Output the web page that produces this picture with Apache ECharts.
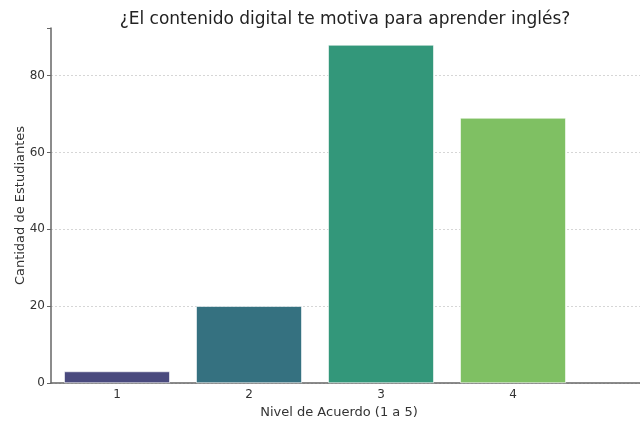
<!DOCTYPE html>
<html>
<head>
<meta charset="utf-8">
<script src="https://cdn.jsdelivr.net/npm/echarts@6/dist/echarts.min.js"></script>
<style>
  html, body { margin: 0; padding: 0; background: #fff; }
  #main { width: 640px; height: 421px; }
</style>
</head>
<body>
<div id="main"></div>
<script>
// Nivel 5 falls outside the cropped picture; it only keeps the axis spacing
const categories = ['1', '2', '3', '4', '5'];
const counts = [3, 20, 88, 69, null];
const barColors = ['#4a4a7e', '#357180', '#33977a', '#7fc063', '#c8d94a'];
const yTicks = [0, 20, 40, 60, 80];

const font = 'DejaVu Sans';
const chart = echarts.init(document.getElementById('main'));

chart.setOption({
  animation: false,
  title: {
    text: '¿El contenido digital te motiva para aprender inglés?',
    left: 340,
    top: 6,
    textAlign: 'center',
    textStyle: { fontFamily: font, fontSize: 17, fontWeight: 'normal', color: '#222' }
  },
  grid: { left: 51, width: 660, top: 28, bottom: 38, outerBoundsMode: 'none' },
  xAxis: {
    type: 'category',
    data: categories,
    name: 'Nivel de Acuerdo (1 a 5)',
    nameLocation: 'middle',
    nameGap: 19,
    nameTextStyle: { fontFamily: font, fontSize: 13, color: '#333', padding: [0, 84, 0, 0] },
    axisLine: { lineStyle: { color: '#666', width: 1.5 } },
    axisTick: { alignWithLabel: true, length: 3, lineStyle: { color: '#666' } },
    axisLabel: { fontFamily: font, fontSize: 12, color: '#333', margin: 6 }
  },
  yAxis: {
    type: 'value',
    min: 0,
    max: 92.4,
    interval: 20,
    name: 'Cantidad de Estudiantes',
    nameLocation: 'middle',
    nameGap: 24,
    nameMoveOverlap: false,
    nameTextStyle: { fontFamily: font, fontSize: 13, color: '#333' },
    axisLine: { show: true, lineStyle: { color: '#666', width: 1.5 } },
    axisTick: { show: true, length: 4, lineStyle: { color: '#666' } },
    axisLabel: {
      fontFamily: font, fontSize: 12, color: '#333', margin: 6,
      formatter: v => (yTicks.includes(v) ? String(v) : '')
    },
    splitLine: { showMaxLine: false, lineStyle: { color: '#ccc', type: [2, 2], width: 0.8 } }
  },
  series: [{
    type: 'bar',
    barCategoryGap: '20%',
    data: counts.map((v, i) => ({ value: v, itemStyle: { color: barColors[i] } })),
    itemStyle: { borderColor: '#ffffff', borderWidth: 0.6 }
  }]
});
</script>
</body>
</html>
